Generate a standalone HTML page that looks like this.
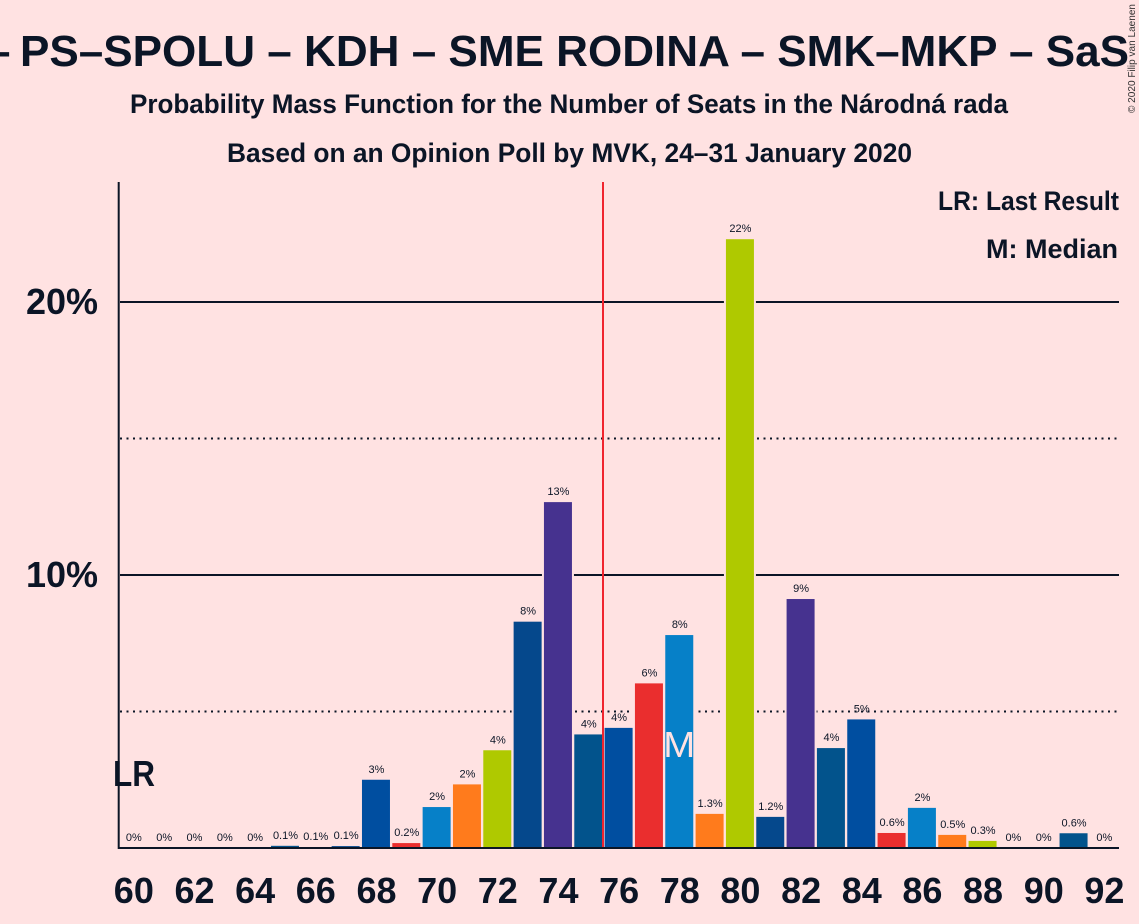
<!DOCTYPE html>
<html lang="en">
<head>
<meta charset="utf-8">
<title>Probability Mass Function for the Number of Seats in the Národná rada</title>
<style>
  html, body { margin: 0; padding: 0; background: #ffe2e2; }
  svg { display: block; }
  text { font-family: "Liberation Sans", sans-serif; fill: #0b1526; }
</style>
</head>
<body>
<svg id="chart" xmlns="http://www.w3.org/2000/svg" width="1139" height="924" viewBox="0 0 1139 924">
  <rect x="0" y="0" width="1139" height="924" fill="#ffe2e2"/>
  <g id="grid"></g>
  <g id="halos"></g>
  <g id="bars"></g>
  <line x1="603" y1="182" x2="603" y2="848" stroke="#f0242e" stroke-width="2"/>
  <line x1="118.7" y1="182" x2="118.7" y2="849" stroke="#0b1526" stroke-width="2"/>
  <line x1="118" y1="848" x2="1119" y2="848" stroke="#0b1526" stroke-width="2"/>
  <g id="value-labels"></g>
  <g id="x-ticks"></g>
  <g id="y-ticks"></g>

  <text x="-14" y="66" font-size="44" font-weight="bold">–</text>
  <text x="20" y="66" font-size="44" font-weight="bold" textLength="1109" lengthAdjust="spacingAndGlyphs">PS–SPOLU – KDH – SME RODINA – SMK–MKP – SaS</text>
  <text x="130" y="113" font-size="27" font-weight="bold" textLength="878" lengthAdjust="spacingAndGlyphs">Probability Mass Function for the Number of Seats in the Národná rada</text>
  <text x="227" y="162" font-size="27" font-weight="bold" textLength="685" lengthAdjust="spacingAndGlyphs">Based on an Opinion Poll by MVK, 24–31 January 2020</text>
  <text x="938" y="210" font-size="27" font-weight="bold" textLength="181" lengthAdjust="spacingAndGlyphs">LR: Last Result</text>
  <text x="986" y="258" font-size="27" font-weight="bold" textLength="132" lengthAdjust="spacingAndGlyphs">M: Median</text>
  <text x="113" y="786" font-size="36" font-weight="bold" textLength="42" lengthAdjust="spacingAndGlyphs">LR</text>
  <text id="median-marker" y="757" font-size="36" textLength="32" lengthAdjust="spacingAndGlyphs" style="fill:#ffe2e2">M</text>
  <text transform="translate(1135,113) rotate(-90)" x="0" y="0" font-size="10" textLength="109" lengthAdjust="spacingAndGlyphs" style="fill:#333333">© 2020 Filip van Laenen</text>
</svg>
<script>
var seats = [60,61,62,63,64,65,66,67,68,69,70,71,72,73,74,75,76,77,78,79,80,81,82,83,84,85,86,87,88,89,90,91,92];
var probabilities = [0,0,0,0,0,0.08,0.03,0.07,2.5,0.18,1.5,2.33,3.58,8.29,12.67,4.16,4.4,6.03,7.8,1.25,22.3,1.14,9.12,3.66,4.71,0.55,1.47,0.48,0.26,0,0,0.54,0];
var valueLabels = ["0%","0%","0%","0%","0%","0.1%","0.1%","0.1%","3%","0.2%","2%","2%","4%","8%","13%","4%","4%","6%","8%","1.3%","22%","1.2%","9%","4%","5%","0.6%","2%","0.5%","0.3%","0%","0%","0.6%","0%"];
var parties = ["sas","ps","kdh","sme","smk","sas","ps","kdh","ps","sme","blue","orange","green","kdh","purple","sas","ps","sme","blue","orange","green","kdh","purple","sas","ps","sme","blue","orange","green","kdh","purple","sas","ps"];
var partyColors = {ps:"#004ea0",sas:"#02538c",kdh:"#05488c",sme:"#ea2e2e",smk:"#afc900",blue:"#0680c8",orange:"#ff7b1c",green:"#afc900",purple:"#46328f"};
var xTickLabels = [60,62,64,66,68,70,72,74,76,78,80,82,84,86,88,90,92];
var yTickLabels = [10,20];
var dottedTicks = [5,15];
var medianSeat = 78;

var NS = "http://www.w3.org/2000/svg";
function xScale(seat) { return 133.33 + (seat - 60) * 30.33; }
function yScale(pct) { return 848 - pct * 27.3; }
function make(tag, parent, attrs) {
  var el = document.createElementNS(NS, tag);
  for (var k in attrs) { el.setAttribute(k, attrs[k]); }
  parent.appendChild(el);
  return el;
}
var grid = document.getElementById("grid");
var halos = document.getElementById("halos");
var bars = document.getElementById("bars");
var labels = document.getElementById("value-labels");
var xTicks = document.getElementById("x-ticks");
var yTicks = document.getElementById("y-ticks");

dottedTicks.forEach(function (t) {
  var l = make("line", grid, {x1: 120, x2: 1119, y1: yScale(t), y2: yScale(t), stroke: "#0b1526", "stroke-width": 2, "stroke-dasharray": "2 4.5"});
  
  
});
yTickLabels.forEach(function (t) {
  var l = make("line", grid, {x1: 120, x2: 1119, y1: yScale(t), y2: yScale(t), stroke: "#0b1526", "stroke-width": 2});
  
  
  var s = make("text", yTicks, {x: 98, y: yScale(t) + 12, "text-anchor": "end", "font-size": 36, "font-weight": "bold"});
  s.textContent = t + "%";
  
  
});
xTickLabels.forEach(function (t) {
  var s = make("text", xTicks, {x: xScale(t) + 0.5, y: 903, "text-anchor": "middle", "font-size": 36, "font-weight": "bold"});
  s.textContent = t;
  
  
});
seats.forEach(function (seat, i) {
  var v = probabilities[i];
  var top = yScale(v);
  var cx = xScale(seat);
  if (v > 0) {
    var h = make("rect", halos, {x: cx - 16, y: top - 2, width: 32, height: 848 - top + 2, fill: "#ffe2e2"});
    
    
    var b = make("rect", bars, {x: cx - 14, y: top, width: 28, height: 848 - top, fill: partyColors[parties[i]]});
    
    
  }
  var t = make("text", labels, {x: cx + 0.5, y: top - 7, "text-anchor": "middle", "font-size": 11});
  t.textContent = valueLabels[i];
  
  
});
document.getElementById("median-marker").setAttribute("x", xScale(medianSeat) - 16);
</script>
</body>
</html>
